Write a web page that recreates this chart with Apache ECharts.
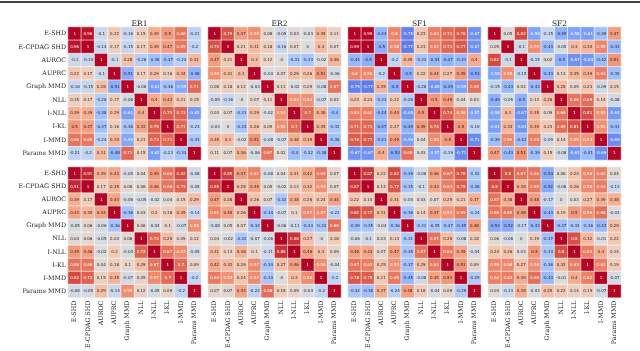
<!DOCTYPE html>
<html>
<head>
<meta charset="utf-8">
<script src="https://cdn.jsdelivr.net/npm/echarts@6/dist/echarts.min.js"></script>
<style>
  html, body { margin: 0; padding: 0; background: #fff; }
  #chart { width: 640px; height: 351px; }
</style>
</head>
<body>
<div id="chart"></div>
<script>
// metric names (rows and columns of every matrix)
const metrics = ['E-SHD', 'E-CPDAG SHD', 'AUROC', 'AUPRC', 'Graph MMD', 'NLL', 'I-NLL', 'I-KL', 'I-MMD', 'Params MMD'];
const panelTitles = ['ER1', 'ER2', 'SF1', 'SF2'];

// top row of panels
const er1Top = [
  [1, 0.96, -0.1, 0.22, -0.16, 0.15, 0.39, 0.5, 0.66, -0.21],
  [0.96, 1, -0.14, 0.17, -0.15, 0.17, 0.39, 0.47, 0.65, -0.2],
  [-0.1, -0.14, 1, -0.1, 0.28, -0.26, -0.38, -0.37, -0.24, 0.31],
  [0.22, 0.17, -0.1, 1, -0.51, 0.17, 0.29, 0.16, 0.34, -0.48],
  [-0.16, -0.15, 0.28, -0.51, 1, -0.06, -0.61, -0.36, -0.55, 0.71],
  [0.15, 0.17, -0.26, 0.17, -0.06, 1, 0.4, 0.43, 0.21, 0.15],
  [0.39, 0.39, -0.38, 0.29, -0.61, 0.4, 1, 0.75, 0.73, -0.62],
  [0.5, 0.47, -0.37, 0.16, -0.36, 0.43, 0.75, 1, 0.71, -0.23],
  [0.66, 0.65, -0.24, 0.34, -0.55, 0.21, 0.73, 0.71, 1, -0.33],
  [-0.21, -0.2, 0.31, -0.48, 0.71, 0.15, -0.62, -0.23, -0.33, 1]
];
const er2Top = [
  [1, 0.79, 0.47, 0.55, 0.08, -0.09, 0.03, -0.03, 0.35, 0.11],
  [0.79, 1, 0.21, 0.31, 0.18, -0.16, 0.07, 0, 0.3, 0.07],
  [0.47, 0.21, 1, 0.3, 0.12, -0, -0.31, -0.33, -0.02, 0.36],
  [0.55, 0.31, 0.3, 1, -0.03, 0.07, 0.29, 0.26, 0.51, -0.06],
  [0.08, 0.18, 0.12, -0.03, 1, 0.11, -0.02, 0.09, -0.08, 0.67],
  [-0.09, -0.16, -0, 0.07, 0.11, 1, 0.53, 0.54, -0.07, 0.02],
  [0.03, 0.07, -0.31, 0.29, -0.02, 0.53, 1, 0.7, 0.38, -0.4],
  [-0.03, 0, -0.33, 0.26, 0.09, 0.54, 0.7, 1, 0.35, -0.32],
  [0.35, 0.3, -0.02, 0.51, -0.08, -0.07, 0.38, 0.35, 1, -0.38],
  [0.11, 0.07, 0.36, -0.06, 0.67, 0.02, -0.4, -0.32, -0.38, 1]
];
const sf1Top = [
  [1, 0.99, -0.44, 0.6, -0.75, 0.23, 0.63, 0.71, 0.76, -0.67],
  [0.99, 1, -0.5, 0.58, -0.77, 0.23, 0.62, 0.71, 0.77, -0.67],
  [-0.44, -0.5, 1, -0.2, 0.35, -0.33, -0.44, -0.47, -0.41, 0.4],
  [0.6, 0.58, -0.2, 1, -0.5, 0.22, 0.44, 0.27, 0.49, -0.53],
  [-0.75, -0.77, 0.35, -0.5, 1, -0.26, -0.65, -0.49, -0.59, 0.68],
  [0.23, 0.23, -0.33, 0.22, -0.26, 1, 0.5, 0.49, 0.04, 0.03],
  [0.63, 0.62, -0.44, 0.44, -0.65, 0.5, 1, 0.74, 0.58, -0.57],
  [0.71, 0.71, -0.47, 0.27, -0.49, 0.49, 0.74, 1, 0.5, -0.19],
  [0.76, 0.77, -0.41, 0.49, -0.59, 0.04, 0.58, 0.5, 1, -0.71],
  [-0.67, -0.67, 0.4, -0.53, 0.68, 0.03, -0.57, -0.19, -0.71, 1]
];
const sf2Top = [
  [1, 0.05, 0.82, -0.58, -0.15, -0.49, -0.58, -0.61, -0.39, 0.47],
  [0.05, 1, -0.1, 0.55, -0.43, -0.05, 0.3, 0.34, 0.59, -0.43],
  [0.82, -0.1, 1, -0.15, 0.02, -0.5, -0.67, -0.64, -0.42, 0.51],
  [-0.58, 0.55, -0.15, 1, -0.43, 0.13, 0.35, 0.39, 0.63, -0.39],
  [-0.15, -0.43, 0.02, -0.43, 1, 0.28, 0.09, 0.23, -0.09, 0.15],
  [-0.49, -0.05, -0.5, 0.13, 0.28, 1, 0.66, 0.69, 0.14, -0.08],
  [-0.58, 0.3, -0.67, 0.35, 0.09, 0.66, 1, 0.81, 0.55, -0.63],
  [-0.61, 0.34, -0.64, 0.39, 0.23, 0.69, 0.81, 1, 0.53, -0.41],
  [-0.39, 0.59, -0.42, 0.63, -0.09, 0.14, 0.55, 0.53, 1, -0.69],
  [0.47, -0.43, 0.51, -0.39, 0.15, -0.08, -0.63, -0.41, -0.69, 1]
];

// bottom row of panels
const er1Bottom = [
  [1, 0.91, 0.39, 0.43, -0.05, 0.04, 0.49, 0.66, 0.82, -0.08],
  [0.91, 1, 0.17, 0.35, 0.06, 0.06, 0.46, 0.66, 0.73, -0.05],
  [0.39, 0.17, 1, 0.44, -0.06, -0.05, -0.02, 0.04, 0.15, 0.29],
  [0.43, 0.35, 0.44, 1, -0.36, 0.03, 0.2, 0.18, 0.35, -0.14],
  [-0.05, 0.06, -0.06, -0.36, 1, 0.06, -0.04, 0.1, -0.07, 0.55],
  [0.04, 0.06, -0.05, 0.03, 0.06, 1, 0.72, 0.29, 0.09, 0.12],
  [0.49, 0.46, -0.02, 0.2, -0.04, 0.72, 1, 0.67, 0.57, -0.05],
  [0.66, 0.66, 0.04, 0.18, 0.1, 0.29, 0.67, 1, 0.7, 0.09],
  [0.82, 0.73, 0.15, 0.35, -0.07, 0.09, 0.57, 0.7, 1, -0.2],
  [-0.08, -0.05, 0.29, -0.14, 0.55, 0.12, -0.05, 0.09, -0.2, 1]
];
const er2Bottom = [
  [1, 0.85, 0.47, 0.61, -0.08, 0.04, 0.31, 0.42, 0.64, 0.07],
  [0.85, 1, 0.28, 0.45, 0.05, -0.02, 0.13, 0.32, 0.53, 0.07],
  [0.47, 0.28, 1, 0.26, 0.07, -0.32, 0.38, 0.26, 0.24, 0.44],
  [0.61, 0.45, 0.26, 1, -0.34, -0.07, 0.1, 0.57, 0.57, -0.22],
  [-0.08, 0.05, 0.07, -0.34, 1, -0.06, -0.11, -0.34, -0.33, 0.68],
  [0.04, -0.02, -0.32, -0.07, -0.06, 1, 0.88, 0.27, -0, 0.18],
  [0.31, 0.13, 0.38, 0.1, -0.11, 0.88, 1, 0.46, 0.3, 0.09],
  [0.42, 0.32, 0.26, 0.57, -0.34, 0.27, 0.46, 1, 0.56, -0.04],
  [0.64, 0.53, 0.24, 0.57, -0.33, -0, 0.3, 0.56, 1, -0.2],
  [0.07, 0.07, 0.44, -0.22, 0.68, 0.18, 0.09, -0.04, -0.2, 1]
];
const sf1Bottom = [
  [1, 0.87, 0.22, 0.82, -0.39, -0.06, 0.46, 0.67, 0.78, -0.32],
  [0.87, 1, 0.14, 0.77, -0.35, -0.1, 0.43, 0.63, 0.75, -0.38],
  [0.22, 0.14, 1, 0.31, -0.04, 0.03, 0.07, 0.25, 0.21, 0.37],
  [0.82, 0.77, 0.31, 1, -0.36, 0.14, 0.47, 0.54, 0.65, -0.24],
  [-0.39, -0.35, -0.04, -0.36, 1, -0.31, -0.35, -0.37, -0.45, 0.48],
  [-0.06, -0.1, 0.03, 0.14, -0.31, 1, 0.67, 0.29, -0.08, 0.18],
  [0.46, 0.43, 0.07, 0.47, -0.35, 0.67, 1, 0.64, 0.45, -0.04],
  [0.67, 0.63, 0.25, 0.54, -0.37, 0.29, 0.64, 1, 0.51, 0.09],
  [0.78, 0.75, 0.21, 0.65, -0.45, -0.08, 0.45, 0.51, 1, -0.29],
  [-0.32, -0.38, 0.37, -0.24, 0.48, 0.18, -0.04, 0.09, -0.29, 1]
];
const sf2Bottom = [
  [1, 0.8, 0.67, 0.66, -0.53, 0.06, 0.24, 0.59, 0.62, 0.04],
  [0.8, 1, 0.38, 0.65, -0.52, -0.06, 0.26, 0.58, 0.63, -0.13],
  [0.67, 0.38, 1, 0.48, -0.17, 0, 0.03, 0.27, 0.39, 0.38],
  [0.66, 0.65, 0.48, 1, -0.43, 0.19, 0.5, 0.56, 0.68, -0.03],
  [-0.53, -0.52, -0.17, -0.43, 1, -0.37, -0.33, -0.36, -0.43, 0.29],
  [0.06, -0.06, 0, 0.19, -0.37, 1, 0.8, 0.32, -0.01, 0.22],
  [0.24, 0.26, 0.03, 0.5, -0.33, 0.8, 1, 0.63, 0.4, 0.14],
  [0.59, 0.58, 0.27, 0.56, -0.36, 0.32, 0.63, 1, 0.62, 0.19],
  [0.62, 0.63, 0.39, 0.68, -0.43, -0.01, 0.4, 0.62, 1, -0.07],
  [0.04, -0.13, 0.38, -0.03, 0.29, 0.22, 0.14, 0.19, -0.07, 1]
];

// matplotlib coolwarm, sampled
const coolwarm = ['#3b4cc0', '#5977e3', '#7b9ff9', '#9ebeff', '#c0d4f5', '#dddcdc',
                  '#f2cbb7', '#f7ac8e', '#ee8468', '#d65244', '#b40426'];

function hexToRgb(h) {
  return [parseInt(h.slice(1, 3), 16), parseInt(h.slice(3, 5), 16), parseInt(h.slice(5, 7), 16)];
}

// same lookup as the visualMap, only used to pick the annotation colour
function cmapRgb(v) {
  let t = (v + 1) / 2 * (coolwarm.length - 1);
  t = Math.max(0, Math.min(coolwarm.length - 1, t));
  const i = Math.min(Math.floor(t), coolwarm.length - 2);
  const f = t - i;
  const a = hexToRgb(coolwarm[i]), b = hexToRgb(coolwarm[i + 1]);
  return a.map((c, k) => c + (b[k] - c) * f);
}

function textColor(v) {
  const lin = c => { c /= 255; return c <= 0.03928 ? c / 12.92 : Math.pow((c + 0.055) / 1.055, 2.4); };
  const [r, g, b] = cmapRgb(v);
  const lum = 0.2126 * lin(r) + 0.7152 * lin(g) + 0.0722 * lin(b);
  return lum > 0.408 ? '#262626' : '#ffffff';
}

function fmt(v) {
  if (Object.is(v, -0)) return '-0';
  return String(v);
}

const panels = [
  { m: er1Top, row: 0, col: 0 }, { m: er2Top, row: 0, col: 1 },
  { m: sf1Top, row: 0, col: 2 }, { m: sf2Top, row: 0, col: 3 },
  { m: er1Bottom, row: 1, col: 0 }, { m: er2Bottom, row: 1, col: 1 },
  { m: sf1Bottom, row: 1, col: 2 }, { m: sf2Bottom, row: 1, col: 3 }
];

const LEFT0 = 68, TOP0 = 27, STEP = 140, SIZE = 133;
const serif = 'DejaVu Serif';

const grids = [], xAxes = [], yAxes = [], series = [];

panels.forEach((p, idx) => {
  grids.push({ left: LEFT0 + STEP * p.col, top: TOP0 + STEP * p.row, width: SIZE, height: SIZE });
  xAxes.push({
    type: 'category', data: metrics, gridIndex: idx, position: 'bottom',
    axisLine: { show: false }, axisTick: { show: false }, splitArea: { show: false },
    axisLabel: { show: p.row === 1, rotate: 90, interval: 0, margin: 3,
                 fontFamily: serif, fontSize: 6.3, color: '#222' }
  });
  yAxes.push({
    type: 'category', data: metrics, gridIndex: idx, inverse: true,
    axisLine: { show: false }, axisTick: { show: false }, splitArea: { show: false },
    axisLabel: { show: p.col === 0, interval: 0, margin: 2,
                 fontFamily: serif, fontSize: 6.3, color: '#222' }
  });
  const data = [];
  p.m.forEach((rowVals, y) => {
    rowVals.forEach((v, x) => {
      data.push({ value: [x, y, v], label: { color: textColor(v) } });
    });
  });
  series.push({
    type: 'heatmap', xAxisIndex: idx, yAxisIndex: idx, data: data,
    itemStyle: { borderColor: '#ffffff', borderWidth: 0.6 },
    label: { show: true, fontSize: 4, fontFamily: 'DejaVu Sans',
             formatter: q => fmt(q.value[2]) },
    emphasis: { disabled: true }
  });
});

const titles = panelTitles.map((t, c) => ({
  text: t, left: LEFT0 + STEP * c + SIZE / 2, top: 15, textAlign: 'center',
  textStyle: { fontFamily: serif, fontSize: 7.5, fontWeight: 'normal', color: '#222' }
}));

const options = {
  animation: false,
  backgroundColor: '#ffffff',
  title: titles,
  grid: grids,
  xAxis: xAxes,
  yAxis: yAxes,
  visualMap: {
    show: false, min: -1, max: 1, dimension: 2,
    seriesIndex: series.map((s, i) => i),
    inRange: { color: coolwarm }
  },
  graphic: [
    { type: 'line', shape: { x1: 0, y1: 2, x2: 640, y2: 2 }, style: { stroke: '#000', lineWidth: 1.5 } }
  ],
  series: series
};

const chart = echarts.init(document.getElementById('chart'));
try {
  chart.setOption(options);
} catch (error) {
  console.error('error', error.message);
}
</script>
</body>
</html>
